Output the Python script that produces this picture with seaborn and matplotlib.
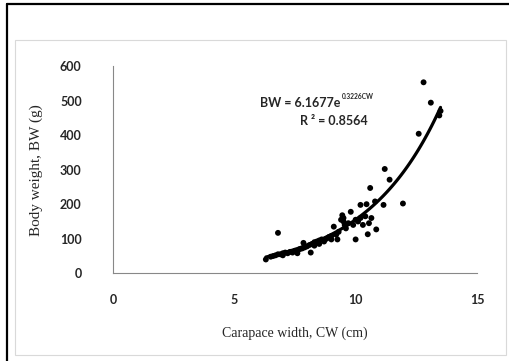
import matplotlib.pyplot as plt
import seaborn as sns
import numpy as np
import pandas as pd
from matplotlib.lines import Line2D
from matplotlib.patches import Rectangle

# carapace width (cm) and body weight (g)
cw = [6.3, 6.5, 6.6, 6.7, 6.8, 6.8, 6.9, 7.0, 7.0, 7.1, 7.2, 7.3, 7.4, 7.5,
      7.6, 7.7, 7.8, 7.85, 7.9, 8.0, 8.1, 8.15, 8.2, 8.3, 8.3, 8.4, 8.5, 8.5,
      8.6, 8.7, 8.8, 8.9, 9.0, 9.0, 9.1, 9.2, 9.25, 9.3, 9.4, 9.45, 9.5, 9.5,
      9.55, 9.6, 9.7, 9.8, 9.9, 10.0, 10.0, 10.1, 10.2, 10.2, 10.3, 10.4,
      10.45, 10.5, 10.55, 10.6, 10.65, 10.8, 10.85, 11.15, 11.2, 11.4, 11.95,
      12.6, 12.8, 13.1, 13.45, 13.5]
bw = [40, 48, 50, 52, 55, 117, 55, 58, 52, 60, 58, 62, 60, 65,
      58, 70, 72, 88, 75, 78, 82, 60, 85, 90, 80, 92, 95, 85,
      98, 92, 100, 105, 108, 98, 135, 112, 98, 120, 155, 168, 150, 160,
      140, 130, 145, 178, 140, 155, 98, 150, 198, 160, 140, 165,
      200, 113, 145, 247, 160, 208, 127, 198, 302, 271, 202,
      404, 553, 494, 457, 470]

# exponential trendline BW = a * exp(b * CW)
fit_a = 6.1677
fit_b = 0.3226
fit_r2 = 0.8564

df = pd.DataFrame({"cw": cw, "bw": bw})
fit_x = np.linspace(6.3, 13.5, 80)
fit = pd.DataFrame({"cw": fit_x, "bw": fit_a * np.exp(fit_b * fit_x)})

sns.set_style("white")
plt.rcParams["font.family"] = ["Lato", "DejaVu Sans"]

fig = plt.figure(figsize=(5.09, 3.61), dpi=100)
ax = fig.add_axes([0.222, 0.243, 0.715, 0.574])

sns.scatterplot(data=df, x="cw", y="bw", color="black", s=18,
                edgecolor="none", ax=ax, zorder=3)
sns.lineplot(data=fit, x="cw", y="bw", color="black", linewidth=2.3,
             ax=ax, zorder=4)

ax.set_xlim(0, 15)
ax.set_ylim(0, 600)
ax.set_xticks([0, 5, 10, 15])
ax.set_yticks([0, 100, 200, 300, 400, 500, 600])

for side in ["top", "right"]:
    ax.spines[side].set_visible(False)
for side in ["left", "bottom"]:
    ax.spines[side].set_color("#888888")
    ax.spines[side].set_linewidth(0.8)

ax.tick_params(axis="both", direction="out", length=4, width=0.8,
               color="#888888", labelsize=9)
ax.tick_params(axis="y", pad=18.5)
ax.tick_params(axis="x", pad=11)
for lab in ax.get_xticklabels() + ax.get_yticklabels():
    lab.set_fontweight("bold")

ax.set_xlabel("Carapace width, CW (cm)", family="Liberation Serif",
              fontsize=10, labelpad=15)
ax.set_ylabel("Body weight, BW (g)", family="Liberation Serif",
              fontsize=11, labelpad=12)

# equation labels
fig.text(0.511, 0.714, "BW = 6.1677e", fontsize=9, fontweight="bold",
         va="center", ha="left")
fig.text(0.672, 0.734, f"{fit_b}CW", fontsize=4.8, fontweight="bold",
         va="center", ha="left")
fig.text(0.590, 0.665, f"R \u00b2 = {fit_r2}", fontsize=9, fontweight="bold",
         va="center", ha="left")

# chart area frame and outer border
fig.patches.append(Rectangle((0.0295, 0.0166), 0.9645, 0.872,
                             transform=fig.transFigure, fill=False,
                             edgecolor="#d9d9d9", linewidth=0.8))
fig.lines.append(Line2D([0.0137, 0.0137], [0.0, 0.989],
                        transform=fig.transFigure, color="black", linewidth=1.6))
fig.lines.append(Line2D([0.0137, 1.0], [0.989, 0.989],
                        transform=fig.transFigure, color="black", linewidth=1.6))

fig.savefig("out.png", dpi=100)
plt.close(fig)
